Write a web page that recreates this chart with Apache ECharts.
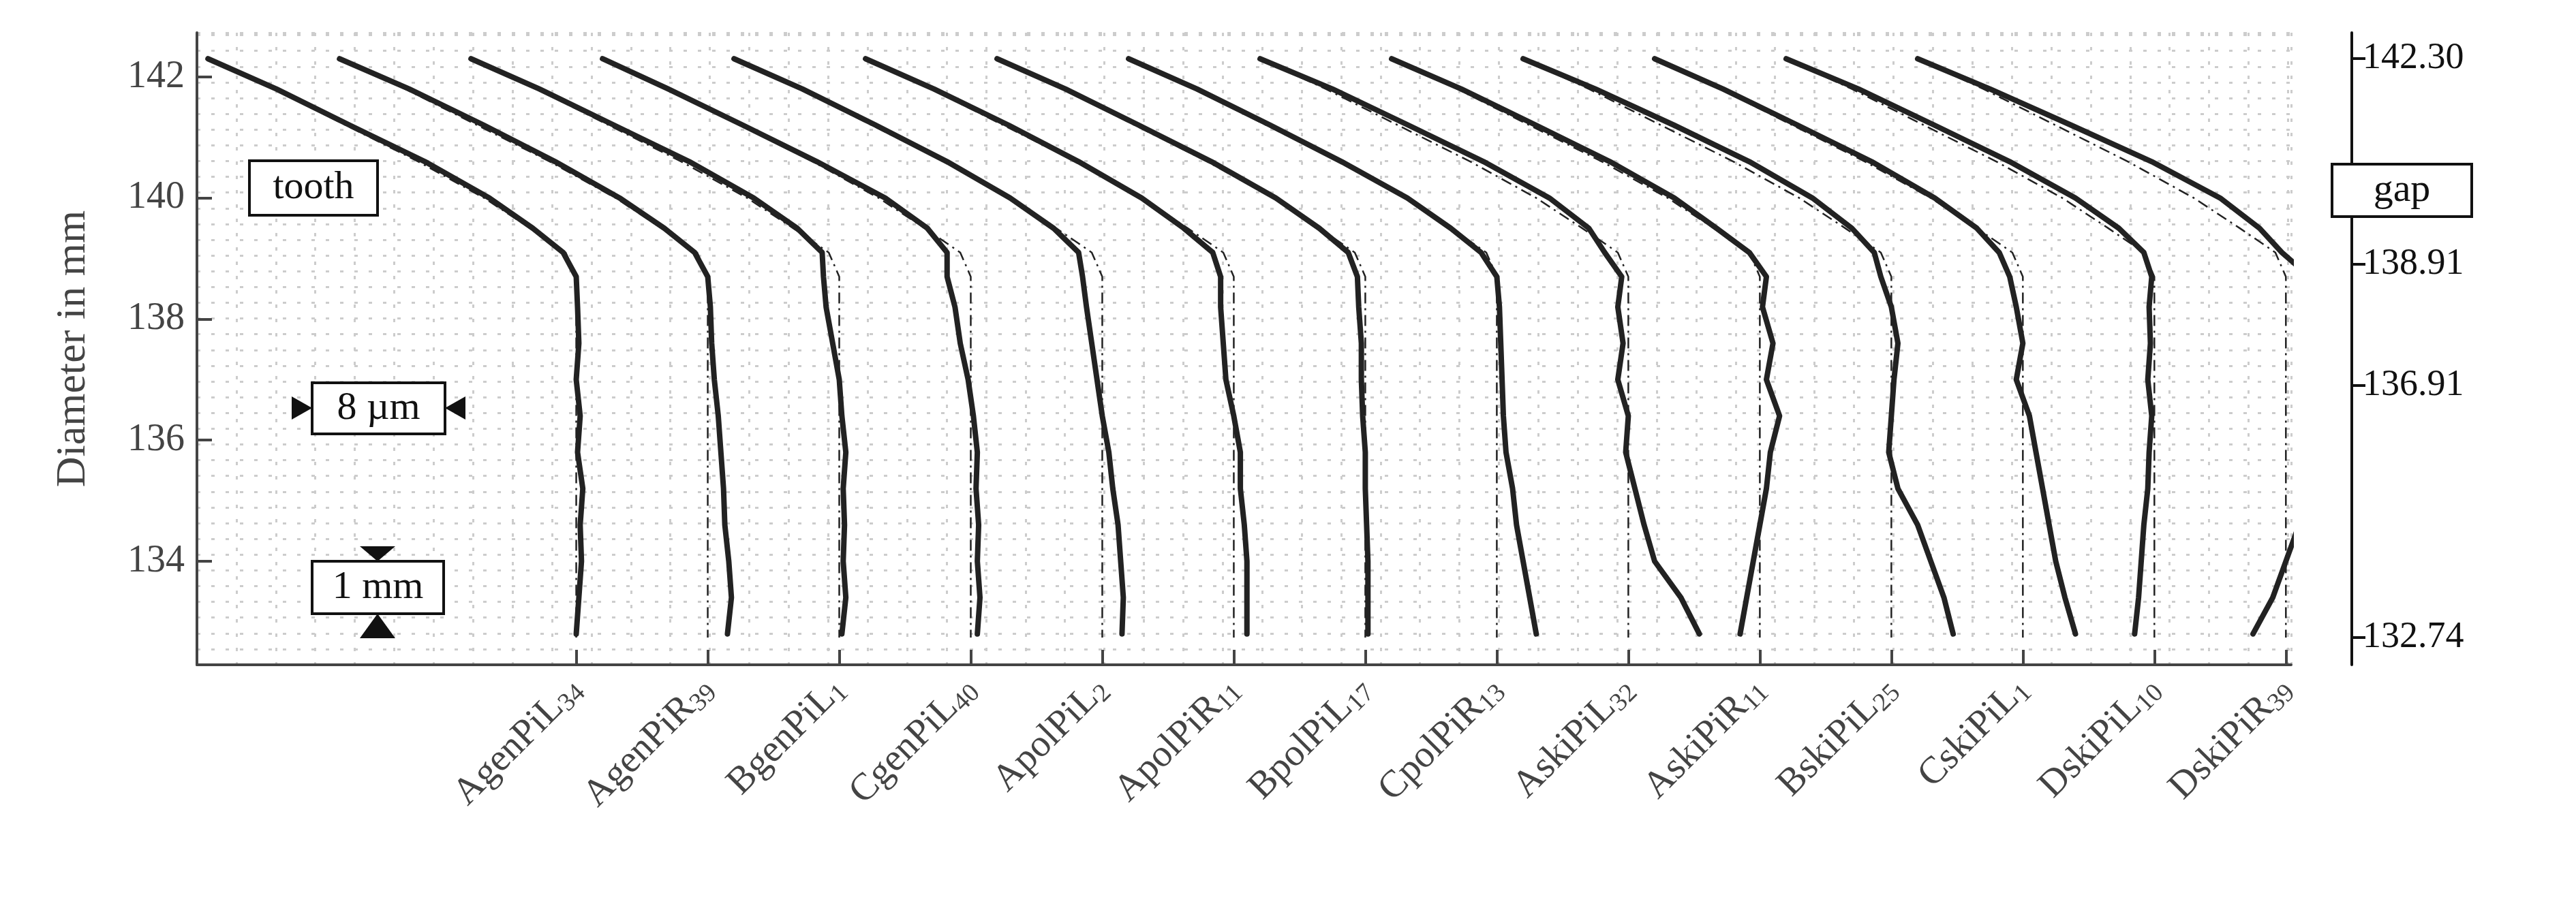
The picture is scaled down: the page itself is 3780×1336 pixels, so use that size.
<!DOCTYPE html>
<html><head><meta charset="utf-8">
<script src="https://cdn.jsdelivr.net/npm/echarts@6/dist/echarts.min.js"></script>
<style>html,body{margin:0;padding:0;background:#fff}#c{width:3780px;height:1336px}</style>
</head><body><div id="c"></div>
<script>
const names = ['AgenPiL','AgenPiR','BgenPiL','CgenPiL','ApolPiL','ApolPiR','BpolPiL','CpolPiR','AskiPiL','AskiPiR','BskiPiL','CskiPiL','DskiPiL','DskiPiR'];
const subs = ['34','39','1','40','2','11','17','13','32','11','25','1','10','39'];
const levels = [142.3,141.8,141.2,140.6,140.0,139.5,139.1,138.7,138.2,137.6,137.0,136.4,135.8,135.2,134.6,134.0,133.4,132.8];
const nominal = [-2.8,-2.3,-1.75,-1.2,-0.7,-0.35,-0.08,0,0,0,0,0,0,0,0,0,0,0];
const rightTicks = [132.74,136.91,138.91,142.30];
const leftTicks = [134,136,138,140,142];
const dev1 = [0,0.02,0.03,0.05,0.04,0.02,-0.02,0.0,0.01,0.02,0.0,0.03,0.01,0.05,0.03,0.04,0.02,0.0];
const dev2 = [0,0.03,0.05,0.04,0.03,0.02,-0.02,0.0,0.02,0.03,0.05,0.08,0.1,0.12,0.13,0.16,0.18,0.15];
const dev3 = [0,0.02,0.04,0.06,0.05,0.03,-0.05,-0.12,-0.1,-0.05,0.0,0.02,0.05,0.03,0.04,0.03,0.05,0.02];
const dev4 = [0,0.0,0.02,0.03,0.05,0.02,-0.1,-0.18,-0.12,-0.08,-0.02,0.02,0.05,0.04,0.06,0.05,0.07,0.05];
const dev5 = [0,0.02,0.03,0.02,0.0,-0.02,-0.1,-0.15,-0.12,-0.08,-0.04,0.0,0.05,0.08,0.12,0.14,0.16,0.15];
const dev6 = [0,0.02,0.04,0.02,0.0,-0.03,-0.08,-0.1,-0.1,-0.08,-0.06,0.0,0.05,0.05,0.08,0.1,0.1,0.1];
const dev7 = [0,0.02,0.03,0.03,0.02,0.0,-0.05,-0.06,-0.05,-0.03,-0.03,-0.02,0.0,0.0,0.01,0.02,0.02,0.02];
const dev8 = [0,0.02,0.03,0.02,0.02,0.0,-0.04,0.0,0.02,0.03,0.04,0.05,0.07,0.12,0.15,0.2,0.25,0.3];
const dev9 = [0,0.05,0.08,0.1,0.1,0.05,-0.1,-0.05,-0.08,-0.04,-0.08,0.0,-0.02,0.05,0.12,0.2,0.4,0.54];
const dev10 = [0,0.03,0.05,0.06,0.05,0.02,0.0,0.05,0.02,0.1,0.05,0.15,0.08,0.05,0.0,-0.05,-0.1,-0.15];
const dev11 = [0,0.05,0.1,0.12,0.1,0.05,-0.05,-0.08,0.0,0.05,0.02,0.0,-0.02,0.05,0.2,0.3,0.4,0.47];
const dev12 = [0,0.02,0.04,0.05,0.03,0.0,-0.1,-0.1,-0.05,0.0,-0.05,0.05,0.1,0.15,0.2,0.25,0.32,0.4];
const dev13 = [0,0.05,0.08,0.1,0.1,0.08,0.0,-0.02,-0.04,-0.03,-0.05,-0.02,-0.04,-0.05,-0.08,-0.1,-0.12,-0.15];
const dev14 = [0,0.05,0.12,0.18,0.2,0.15,0.05,0.18,0.2,0.18,0.2,0.22,0.2,0.15,0.1,0.0,-0.1,-0.25];
const devs = [dev1,dev2,dev3,dev4,dev5,dev6,dev7,dev8,dev9,dev10,dev11,dev12,dev13,dev14];

const XMIN=-2.884, XMAX=13.04, YMIN=132.29, YMAX=142.73;
const FONT='Liberation Serif';
const series=[];
devs.forEach((d,i)=>{
  const nomPts = levels.map((y,k)=>[i+nominal[k], y]);
  nomPts[nomPts.length-1] = [i, 132.74];
  series.push({type:'line',xAxisIndex:0,yAxisIndex:0,data:nomPts,symbol:'none',z:3,clip:false,
    lineStyle:{color:'#222',width:2.5,type:[16,7,3,7]}});
  series.push({type:'line',xAxisIndex:0,yAxisIndex:0,data:levels.map((y,k)=>[i+nominal[k]+d[k], y]),symbol:'none',z:4,clip:false,
    lineStyle:{color:'#222',width:8,join:'round',cap:'round'}});
});
const idx = names.map((_,i)=>i);
const tri=(pts)=>({type:'polygon',shape:{points:pts},style:{fill:'#111',stroke:null},z:12});
function box(x,y,w,h,t){return [{type:'rect',shape:{x,y,width:w,height:h},style:{fill:'#fff',stroke:'#111',lineWidth:4},z:10},
  {type:'text',x:x+w/2,y:y+h/2,style:{text:t,font:'58px "'+FONT+'"',fill:'#111',align:'center',verticalAlign:'middle'},z:11}];}
const chart=echarts.init(document.getElementById('c'));
chart.setOption({
  animation:false,
  grid:{left:289,right:418,top:48,bottom:360},
  xAxis:[
    {type:'value',min:XMIN,max:XMAX,position:'bottom',
     axisLine:{onZero:false,lineStyle:{color:'#444',width:4}},
     axisTick:{customValues:idx,length:22,inside:true,lineStyle:{color:'#444',width:4}},
     axisLabel:{customValues:idx,rotate:45,margin:28,color:'#444',fontFamily:FONT,fontSize:56,
       formatter:(v)=>{const i=Math.round(v);return names[i]+'{s|'+subs[i]+'}';},
       rich:{s:{fontFamily:FONT,fontSize:38,color:'#444',verticalAlign:'bottom',padding:[22,0,0,0]}}},
     splitLine:{show:false}},
    {type:'value',min:XMIN,max:XMAX,interval:0.3,show:true,axisLine:{show:false,onZero:false},axisTick:{show:false},axisLabel:{show:false},
     splitLine:{show:true,lineStyle:{color:'#cccccc',width:3,type:[5,16]}}}
  ],
  yAxis:[
    {type:'value',min:YMIN,max:YMAX,position:'left',name:'Diameter in mm',nameLocation:'middle',nameGap:150,
     nameTextStyle:{fontFamily:FONT,fontSize:62,color:'#444'},
     axisLine:{show:true,onZero:false,lineStyle:{color:'#444',width:4}},
     axisTick:{customValues:leftTicks,inside:true,length:22,lineStyle:{color:'#444',width:4}},
     axisLabel:{customValues:leftTicks,color:'#444',fontFamily:FONT,fontSize:56,margin:18},
     splitLine:{show:false}},
    {type:'value',min:YMIN,max:YMAX,position:'right',offset:89,
     axisLine:{show:true,onZero:false,lineStyle:{color:'#111',width:4}},
     axisTick:{customValues:rightTicks,length:20,lineStyle:{color:'#111',width:4}},
     axisLabel:{customValues:rightTicks,color:'#111',fontFamily:FONT,fontSize:54,margin:16,formatter:(v)=>v.toFixed(2)},
     splitLine:{show:false}},
    {type:'value',min:YMIN,max:YMAX,interval:0.26,position:'left',axisLine:{show:false,onZero:false},axisTick:{show:false},axisLabel:{show:false},
     splitLine:{show:true,lineStyle:{color:'#cccccc',width:3,type:[5,16]}}}
  ],
  series:series.concat([{type:'line',xAxisIndex:1,yAxisIndex:2,data:[],silent:true}]),
  graphic:[].concat(
    box(366,236,188,80,'tooth'),
    box(3422,241,205,77,'gap'),
    box(458,562,195,75,'8 µm'),
    [tri([[428,582],[458,599],[428,616]]),tri([[683,582],[653,599],[683,616]])],
    box(458,824,193,77,'1 mm'),
    [tri([[528,802],[580,802],[554,824]]),tri([[528,937],[580,937],[554,901]])]
  )
});
</script></body></html>
